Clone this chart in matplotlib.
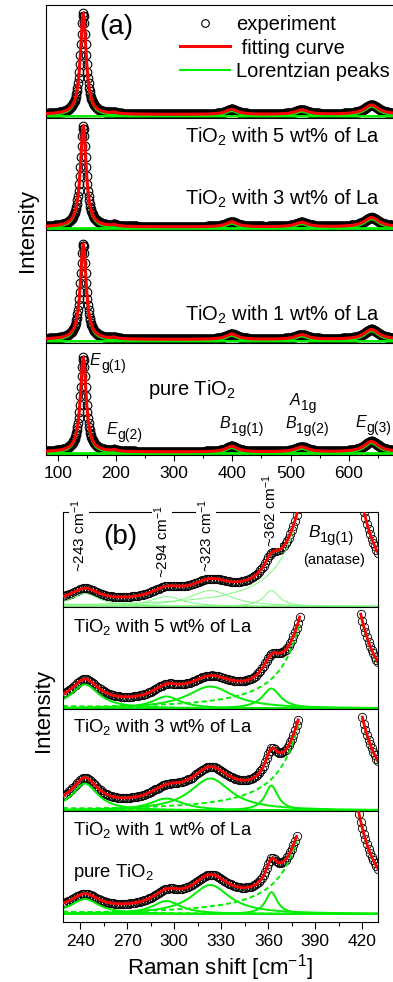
import numpy as np
import matplotlib
matplotlib.use('Agg')
import matplotlib.pyplot as plt
from matplotlib.lines import Line2D
from matplotlib.ticker import MultipleLocator

plt.rcParams['font.family'] = ['Liberation Sans', 'DejaVu Sans']
plt.rcParams['mathtext.fontset'] = 'custom'
plt.rcParams['mathtext.rm'] = 'Liberation Sans'
plt.rcParams['mathtext.it'] = 'Liberation Sans:italic'
plt.rcParams['mathtext.bf'] = 'Liberation Sans:bold'
plt.rcParams['mathtext.sf'] = 'Liberation Sans'

# ---------------- data ----------------
sample_labels = ['TiO$_{\\mathrm{2}}$ with 5 wt% of La', 'TiO$_{\\mathrm{2}}$ with 3 wt% of La',
                 'TiO$_{\\mathrm{2}}$ with 1 wt% of La', 'pure TiO$_{\\mathrm{2}}$']

# panel (a): Lorentzian peaks (Eg(1), Eg(2), B1g(1), A1g/B1g(2), Eg(3))
a_centers = [144, 197, 399, 519, 639]
a_widths = [12, 10, 24, 26, 30]
a_amp_5wt = [0.91, 0.012, 0.045, 0.040, 0.085]
a_amp_3wt = [0.91, 0.012, 0.045, 0.040, 0.085]
a_amp_1wt = [0.86, 0.012, 0.048, 0.042, 0.090]
a_amp_pure = [0.85, 0.012, 0.050, 0.044, 0.095]
a_background = [0.015, 0.015, 0.015, 0.015]
a_step = 1.0

# panel (b): Lorentzian peaks (Eg(1) tail, 243, 294, 323, 362, B1g(1))
b_centers = [144, 243, 295, 323, 362, 400]
b_dashed = [True, False, False, False, False, True]
b_width_5wt = [11, 22, 25, 32, 12, 24]
b_amp_5wt = [600, 13, 10, 16, 16, 382]
b_width_3wt = [11, 22, 22, 36, 14, 24]
b_amp_3wt = [600, 24, 12, 22, 20, 326]
b_width_1wt = [11, 20, 26, 32, 10, 24]
b_amp_1wt = [600, 27, 12, 32, 25, 347]
b_width_pure = [11, 22, 22, 30, 9, 24]
b_amp_pure = [600, 15, 13, 29, 22, 320]
b_left_end = [383, 380, 379, 378.5]
b_right_start = [415, 418.5, 419.5, 417]
b_step = 1.0

# ---------------- helpers ----------------
def lor(x, c, A, w):
    return A / (1.0 + ((x - c) / (w / 2.0)) ** 2)

W, H = 393, 982
fig = plt.figure(figsize=(W / 100, H / 100), dpi=100)
renderer = fig.canvas.get_renderer()

def add_ax(l, t, r, b):
    return fig.add_axes([l / W, 1 - b / H, (r - l) / W, (b - t) / H])

def ftext(x, y, s, **kw):
    return fig.text(x / W, 1 - y / H, s, **kw)

def sub_label(x, y, main, sub, msize=11.5, ssize=10, dy=5):
    t = ftext(x, y, main, fontsize=msize, style='italic', ha='left', va='baseline')
    bb = t.get_window_extent(renderer)
    ftext(x + bb.width + 0.5, y + dy, sub, fontsize=ssize, ha='left', va='baseline')

RED = '#ff0000'
GREEN = '#00ee00'
LIGHTGREEN = '#7dfa7d'

# ---------------- panel (a) ----------------
a_tops = [5, 117.5, 230, 342.5]
a_bots = [117.5, 230, 342.5, 455]
a_amps = [a_amp_5wt, a_amp_3wt, a_amp_1wt, a_amp_pure]
xa = np.arange(80, 682, a_step)
axes_a = []
for i in range(4):
    ax = add_ax(46, a_tops[i], 396, a_bots[i])
    axes_a.append(ax)
    peaks = [lor(xa, c, A, w) for c, A, w in zip(a_centers, a_amps[i], a_widths)]
    fit = a_background[i] + np.sum(peaks, axis=0)
    ax.plot(xa, fit, 'o', ms=6.2, mfc='none', mec='k', mew=0.8, zorder=2)
    for p in peaks:
        ax.plot(xa, p, color=GREEN, lw=1.5, zorder=2.5)
    ax.plot(xa, fit, color=RED, lw=2.2, zorder=3)
    ax.set_xlim(80, 681)
    ax.set_ylim(-0.012, 1.0)
    ax.set_yticks([])
    ax.spines['right'].set_visible(False)
    for s in ax.spines.values():
        s.set_linewidth(0.8)
    if i < 3:
        ax.tick_params(axis='x', bottom=False, labelbottom=False, which='both')
    else:
        ax.xaxis.set_major_locator(MultipleLocator(100))
        ax.xaxis.set_minor_locator(MultipleLocator(50))
        ax.tick_params(axis='x', which='major', direction='out', length=4, width=0.8,
                       labelsize=12.5, pad=4)
        ax.tick_params(axis='x', which='minor', direction='out', length=2.5, width=0.8)

handles = [Line2D([], [], ls='none', marker='o', ms=5.5, mfc='none', mec='k', mew=0.8),
           Line2D([], [], color=RED, lw=2.2),
           Line2D([], [], color=GREEN, lw=1.5)]
axes_a[0].legend(handles, ['experiment', ' fitting curve', 'Lorentzian peaks'],
                 loc='upper left', bbox_to_anchor=((180 - 46) / 350, 1 - 10.5 / 112.5),
                 frameon=False, fontsize=14.5, handlelength=2.5, handletextpad=0.3,
                 labelspacing=0.2, borderpad=0, borderaxespad=0)

ftext(116, 27, '(a)', fontsize=20, ha='center', va='center')
ftext(380, 143, sample_labels[0], fontsize=14.5, ha='right', va='baseline')
ftext(380, 205, sample_labels[1], fontsize=14.5, ha='right', va='baseline')
ftext(380, 321, sample_labels[2], fontsize=14.5, ha='right', va='baseline')
ftext(148, 395, sample_labels[3], fontsize=14.5, ha='left', va='baseline')
sub_label(90, 365, 'E', 'g(1)')
sub_label(106, 434, 'E', 'g(2)')
sub_label(220, 428, 'B', '1g(1)')
sub_label(290, 405, 'A', '1g')
sub_label(285, 428, 'B', '1g(2)')
sub_label(355, 427, 'E', 'g(3)')
ftext(27, 230, 'Intensity', fontsize=16, rotation=90, ha='center', va='center')

# ---------------- panel (b) ----------------
b_tops = [512, 607, 709, 811]
b_bots = [607, 709, 811, 922]
b_ylims = [(-0.5, 94.5), (-0.5, 101.5), (-0.5, 101.5), (-8, 103)]
b_widths = [b_width_5wt, b_width_3wt, b_width_1wt, b_width_pure]
b_amps = [b_amp_5wt, b_amp_3wt, b_amp_1wt, b_amp_pure]
xb = np.arange(229, 431, b_step)
for j in range(4):
    ax = add_ax(63, b_tops[j], 378, b_bots[j])
    mask = (xb <= b_left_end[j]) | (xb >= b_right_start[j])
    peaks = [lor(xb, c, A, w) for c, A, w in zip(b_centers, b_amps[j], b_widths[j])]
    fit = np.sum(peaks, axis=0)
    ax.plot(xb[mask], fit[mask], 'o', ms=6, mfc='none', mec='k', mew=0.6, zorder=2)
    for k, (p, dsh) in enumerate(zip(peaks, b_dashed)):
        if k == len(peaks) - 1:
            p = np.where(mask, p, np.nan)
        if j == 0:
            ax.plot(xb, p, color=LIGHTGREEN, lw=0.7, zorder=2.5)
        elif dsh:
            ax.plot(xb, p, color=GREEN, lw=1.4, dashes=(2.6, 1.6), zorder=2.5)
        else:
            ax.plot(xb, p, color=GREEN, lw=1.4, zorder=2.5)
    ax.plot(xb, np.where(mask, fit, np.nan), color=RED, lw=2.0, zorder=3)
    ax.set_xlim(229, 430)
    ax.set_ylim(*b_ylims[j])
    ax.set_yticks([])
    for s in ax.spines.values():
        s.set_linewidth(0.8)
    if j < 3:
        ax.tick_params(axis='x', bottom=False, labelbottom=False, which='both')
    else:
        ax.xaxis.set_major_locator(MultipleLocator(30))
        ax.xaxis.set_minor_locator(MultipleLocator(15))
        ax.tick_params(axis='x', which='major', direction='out', length=5, width=0.8,
                       labelsize=12.5, pad=4)
        ax.tick_params(axis='x', which='minor', direction='out', length=3, width=0.8)

ftext(120, 537, '(b)', fontsize=20, ha='center', va='center')
for s, x, y in [('~243 cm$^{-1}$', 79, 572), ('~294 cm$^{-1}$', 162, 578),
                ('~323 cm$^{-1}$', 206, 572), ('~362 cm$^{-1}$', 270, 547)]:
    ftext(x, y, s, fontsize=11, rotation=90, ha='center', va='bottom',
          bbox=dict(facecolor='white', edgecolor='none', pad=0.5))
sub_label(308, 537, 'B', '1g(1)', msize=12.5, ssize=10.5)
ftext(334, 560, '(anatase)', fontsize=10.5, ha='center', va='center')
ftext(73, 632, sample_labels[0], fontsize=13.3, ha='left', va='baseline')
ftext(73, 732, sample_labels[1], fontsize=13.3, ha='left', va='baseline')
ftext(73, 835, sample_labels[2], fontsize=13.3, ha='left', va='baseline')
ftext(73, 877, sample_labels[3], fontsize=13.3, ha='left', va='baseline')
ftext(44, 711, 'Intensity', fontsize=16, rotation=90, ha='center', va='center')
ftext(220, 968, 'Raman shift [cm$^{-1}$]', fontsize=16, ha='center', va='center')

fig.savefig('out.png', dpi=100)
